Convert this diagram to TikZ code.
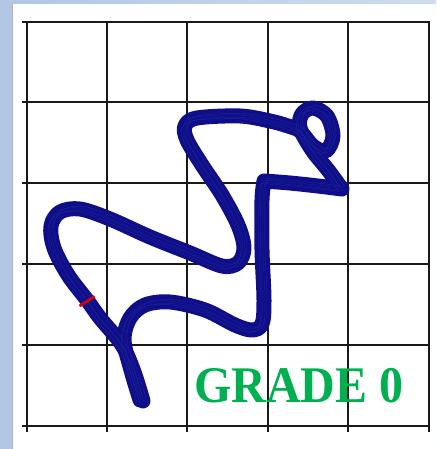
\documentclass[tikz,border=0pt]{standalone}
\usepackage{fontspec}
\setmainfont{Liberation Serif}
\definecolor{navy}{RGB}{14,14,136}
\definecolor{navylt}{RGB}{45,45,165}
\definecolor{gradegreen}{RGB}{0,176,80}
\definecolor{bgblue}{RGB}{176,198,226}
\definecolor{bgblue2}{RGB}{205,220,238}
\definecolor{gridline}{RGB}{25,25,25}
\newcommand\tracepath{%
 plot[smooth,tension=0.55] coordinates {(143,401) (134,372) (122,345) (100,318) (87,300) (68,275) (54,248) (51,226) (60,212) (80,209) (110,219) (150,237) (190,253) (222,266) (238,263) (244,248) (238,225) (222,195) (202,165) (187,140) (185,126) (197,118) (240,116) (270,121) (288,126) (300,131) (313,146) (326,151) (333,136) (327,116) (313,108) (302,114) (300,128) (312,150) (328,170) (342,189)}
 plot[smooth,tension=0.5] coordinates {(342,189) (318,186) (290,183) (264,181)}
 plot[smooth,tension=0.55] coordinates {(264,181) (262,200) (262,250) (264,300) (262,324) (252,330) (235,325) (205,310) (170,302) (145,305) (130,318) (124,340) (131,370) (140,400)}
}
\tikzset{trace/.style={line cap=round, line join=round}}
\begin{document}
\begin{tikzpicture}[x=1pt,y=-1pt]
\useasboundingbox (0,0) rectangle (436,449);
% background
\shade[left color=bgblue, right color=bgblue2] (0,0) rectangle (436,449);
\fill[white] (12,4) rectangle (436,449);
\draw[gray!60, line width=0.8pt] (12,4) -- (12,449);
% grid
\foreach \x in {27,107,187,268,348,429} \draw[gridline, line width=1.3pt] (\x,22) -- (\x,432);
\foreach \y in {22,102,183,264,345,426} \draw[gridline, line width=1.3pt] (22,\y) -- (430,\y);
% tracing
\draw[trace, navy, line width=15pt] \tracepath;
\draw[trace, navy, line width=12pt] plot[smooth] coordinates {(124,345) (133,372) (141,398)};
\draw[trace, navylt, line width=0.4pt, opacity=0.6, shift={(3,-2.5)}] \tracepath;
\draw[trace, navylt, line width=0.4pt, opacity=0.6, shift={(-3,2.5)}] \tracepath;
\draw[trace, navylt, line width=0.4pt, opacity=0.5, shift={(1,1.5)}] \tracepath;
\draw[trace, navylt, line width=0.4pt, opacity=0.5, shift={(-1.5,-1)}] \tracepath;
% red mark
\coordinate (ra) at (79.5,306);
\coordinate (rb) at (94.5,296.5);
\draw[red!85!black, line width=2.8pt] (ra) -- (rb);
% label
\node[anchor=base, text=gradegreen, font=\fontsize{48}{48}\selectfont\bfseries, inner sep=0pt] (grade) at (299,402) {\scalebox{1}[1.07]{GRADE 0}};
\end{tikzpicture}
\end{document}
